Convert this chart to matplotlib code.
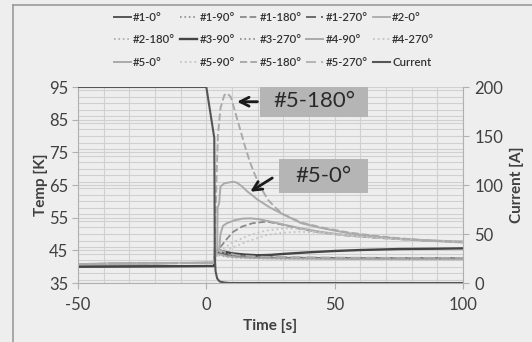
import matplotlib
matplotlib.use('Agg')
import matplotlib.pyplot as plt
from matplotlib.lines import Line2D
from matplotlib.patches import Rectangle
from matplotlib.ticker import MultipleLocator

plt.rcParams['font.family'] = ['Lato', 'DejaVu Sans']
plt.rcParams['axes.unicode_minus'] = False

# ---- data ----
# quench sensors: time [s] and temperature [K]
t_5_180 = [-50, 3, 3.5, 4, 4.5, 5.5, 7, 8, 9.5, 11, 13, 15, 17, 19, 21, 24, 27, 30, 33, 37, 45, 55, 65, 75, 85, 100]
T_5_180 = [40.8, 41.2, 52, 68, 80, 88.5, 92.5, 93.1, 92, 88, 82.5, 77, 72, 68, 64.5, 60.5, 58, 56, 55, 53.5, 52, 50.5, 49.5, 48.7, 48.1, 47.5]

t_5_0 = [-50, 3, 3.5, 4.2, 4.4, 5, 5.5, 7, 9, 10.5, 12, 14, 16, 18, 20, 25, 30, 37, 45, 55, 65, 75, 85, 100]
T_5_0 = [40.8, 41.3, 43, 44, 58, 59.5, 64.5, 65.5, 65.8, 66, 65.7, 64.5, 63, 61.8, 60.5, 58, 56, 53.3, 51.8, 50.3, 49.3, 48.6, 48.0, 47.4]

t_4_90 = [-50, 3, 4, 5, 5.5, 6.5, 8, 11, 14, 17, 20, 25, 30, 37, 45, 55, 65, 75, 85, 100]
T_4_90 = [40.8, 41.2, 44.5, 45, 50, 52.5, 53.3, 54.2, 54.7, 54.8, 54.6, 53.8, 52.9, 51.7, 50.6, 49.6, 49.0, 48.5, 48.1, 47.7]

t_1_180 = [-50, 3, 4, 6, 8, 10.5, 14, 18, 23.6, 30, 37, 45, 55, 65, 75, 85, 100]
T_1_180 = [40.8, 41.2, 45, 46.5, 48.5, 50.7, 52.3, 53.3, 53.8, 52.8, 51.5, 50.4, 49.5, 48.9, 48.4, 48.0, 47.6]

t_5_90 = [-50, 3, 5.5, 10, 17, 23, 30, 36, 43, 50, 60, 75, 100]
T_5_90 = [40.8, 41.2, 45, 47.3, 49.7, 51, 51.7, 51.6, 50.7, 50.0, 49.2, 48.4, 47.6]

t_4_270 = [-50, 3, 5.5, 10, 17, 23.6, 30, 36.6, 45, 55, 65, 75, 100]
T_4_270 = [40.8, 41.2, 44.4, 45.8, 48, 49.7, 50.4, 50.7, 50.3, 49.6, 49.0, 48.4, 47.6]

t_3_90 = [-50, 3, 3.5, 5, 7, 10, 15, 20, 25, 30, 40, 50, 60, 75, 90, 100]
T_3_90 = [40.0, 40.2, 44.5, 45.0, 44.6, 44.1, 43.7, 43.5, 43.6, 43.9, 44.4, 44.8, 45.1, 45.4, 45.5, 45.6]

t_low = [-50, 3, 3.5, 5, 8, 12, 20, 30, 50, 75, 100]
T_1_0 = [40.0, 40.2, 44.0, 44.3, 43.6, 43.1, 42.8, 42.7, 42.6, 42.5, 42.5]
T_1_90 = [40.8, 41.2, 43.8, 44.0, 43.4, 43.0, 42.7, 42.6, 42.5, 42.4, 42.4]
T_1_270 = [40.8, 41.2, 44.6, 44.8, 43.9, 43.3, 42.9, 42.8, 42.7, 42.6, 42.6]
T_2_0 = [40.8, 41.2, 43.5, 43.8, 43.2, 42.9, 42.6, 42.5, 42.4, 42.3, 42.3]
T_2_180 = [40.8, 41.2, 43.2, 43.5, 43.0, 42.7, 42.5, 42.4, 42.3, 42.2, 42.2]
T_3_270 = [40.8, 41.2, 44.2, 44.5, 43.7, 43.2, 42.9, 42.8, 42.7, 42.6, 42.6]
T_5_270 = [40.8, 41.2, 45.0, 45.3, 44.2, 43.5, 43.1, 42.9, 42.8, 42.7, 42.7]

# coil current [A]
t_cur = [-50, 0, 3.1, 3.3, 3.6, 4.2, 5, 5.5, 7, 9, 100]
I_cur = [200, 200, 148, 27, 12, 4.8, 2, 1.3, 0.5, 0, 0]

temp_ticks = [35, 45, 55, 65, 75, 85, 95]

dark = '#555555'
mid = '#8a8a8a'
light = '#aaaaaa'
lighter = '#c4c4c4'
longdash = (0, (6, 3))

# label, t, T, colour, linestyle, width
series = [
    ('#1-0°', t_low, T_1_0, dark, '-', 1.4),
    ('#1-90°', t_low, T_1_90, mid, ':', 1.2),
    ('#1-180°', t_1_180, T_1_180, mid, '--', 1.3),
    ('#1-270°', t_low, T_1_270, dark, longdash, 1.2),
    ('#2-0°', t_low, T_2_0, light, '-', 1.3),
    ('#2-180°', t_low, T_2_180, light, ':', 1.2),
    ('#3-90°', t_3_90, T_3_90, '#454545', '-', 1.7),
    ('#3-270°', t_low, T_3_270, mid, ':', 1.2),
    ('#4-90°', t_4_90, T_4_90, light, '-', 1.4),
    ('#4-270°', t_4_270, T_4_270, lighter, ':', 1.3),
    ('#5-0°', t_5_0, T_5_0, light, '-', 1.4),
    ('#5-90°', t_5_90, T_5_90, lighter, ':', 1.3),
    ('#5-180°', t_5_180, T_5_180, light, '--', 1.4),
    ('#5-270°', t_low, T_5_270, light, longdash, 1.2),
]

bg = '#eeeeee'
grid_c = '#d0d0d0'
text_c = '#404040'

fig = plt.figure(figsize=(5.32, 3.42), dpi=100, facecolor=bg)
ax = fig.add_axes([0.1466, 0.1725, 0.7237, 0.5731])
ax.set_facecolor(bg)
ax2 = ax.twinx()

handles = []
for lab, t, T, c, ls, lw in series:
    h, = ax.plot(t, T, color=c, ls=ls, lw=lw, label=lab)
    handles.append(h)
hc, = ax2.plot(t_cur, I_cur, color=dark, lw=1.5, label='Current')
handles.append(hc)

ax.set_xlim(-50, 100)
ax.set_ylim(35, 95)
ax2.set_ylim(0, 200)
ax.xaxis.set_major_locator(MultipleLocator(50))
ax.xaxis.set_minor_locator(MultipleLocator(10))
ax.set_yticks(temp_ticks)
ax.yaxis.set_minor_locator(MultipleLocator(2))
ax2.yaxis.set_major_locator(MultipleLocator(50))
ax.grid(which='both', color=grid_c, lw=0.8)
ax.set_axisbelow(True)

for a in (ax, ax2):
    for s in a.spines.values():
        s.set_visible(False)
ax.spines['left'].set_visible(True)
ax.spines['left'].set_color('#b0b0b0')
ax.spines['bottom'].set_visible(True)
ax.spines['bottom'].set_color('#b0b0b0')
ax2.spines['right'].set_visible(True)
ax2.spines['right'].set_color('#b0b0b0')

ax.tick_params(which='major', length=4, color='#b0b0b0', labelsize=12, labelcolor=text_c, pad=3)
ax.tick_params(which='minor', length=0)
ax2.tick_params(length=4, color='#b0b0b0', labelsize=12, labelcolor=text_c, pad=4)
ax.tick_params(axis='x', pad=6)

ax.set_xlabel('Time [s]', fontsize=11, fontweight='bold', color=text_c, labelpad=4)
ax.set_ylabel('Temp [K]', fontsize=11, fontweight='bold', color=text_c, labelpad=1)
ax2.set_ylabel('Current [A]', fontsize=11, fontweight='bold', color=text_c, labelpad=5)

# legend, filled row by row (matplotlib fills column by column)
ncol, nrow = 5, 3
order = [r * ncol + c for c in range(ncol) for r in range(nrow)]
fig.legend([handles[i] for i in order], [handles[i].get_label() for i in order],
           loc='upper center', bbox_to_anchor=(0.515, 0.995), ncol=ncol, frameon=False,
           prop={'size': 8.2, 'weight': 'semibold'}, handlelength=1.5, handletextpad=0.2,
           columnspacing=0.45, labelspacing=1.0, labelcolor='#333333')

# callout boxes with arrows
callouts = [
    ('#5-180°', (21.0, 85.8), 42.1, 10.1, (10.9, 90.5), (21.0, 90.5)),
    ('#5-0°', (28.4, 62.5), 34.7, 10.5, (16.2, 62.5), (26.6, 67.6)),
]
for txt, xy0, w, h, tip, tail in callouts:
    ax.add_patch(Rectangle(xy0, w, h, facecolor='#b5b5b5', edgecolor='none', zorder=5))
    ax.text(xy0[0] + w / 2, xy0[1] + h / 2, txt, ha='center', va='center',
            fontsize=16, color='#2a2a2a', zorder=6)
    ax.annotate('', xy=tip, xytext=tail, zorder=6,
                arrowprops=dict(arrowstyle='->', lw=2, color='#1a1a1a', mutation_scale=16))

# outer frame (left and top edges visible in the picture)
fig.add_artist(Line2D([0.0244, 0.0244], [0, 0.985], color='#9a9a9a', lw=1.2))
fig.add_artist(Line2D([0.0244, 1.0], [0.985, 0.985], color='#9a9a9a', lw=1.2))

fig.savefig('out.png', dpi=100, facecolor=bg)
